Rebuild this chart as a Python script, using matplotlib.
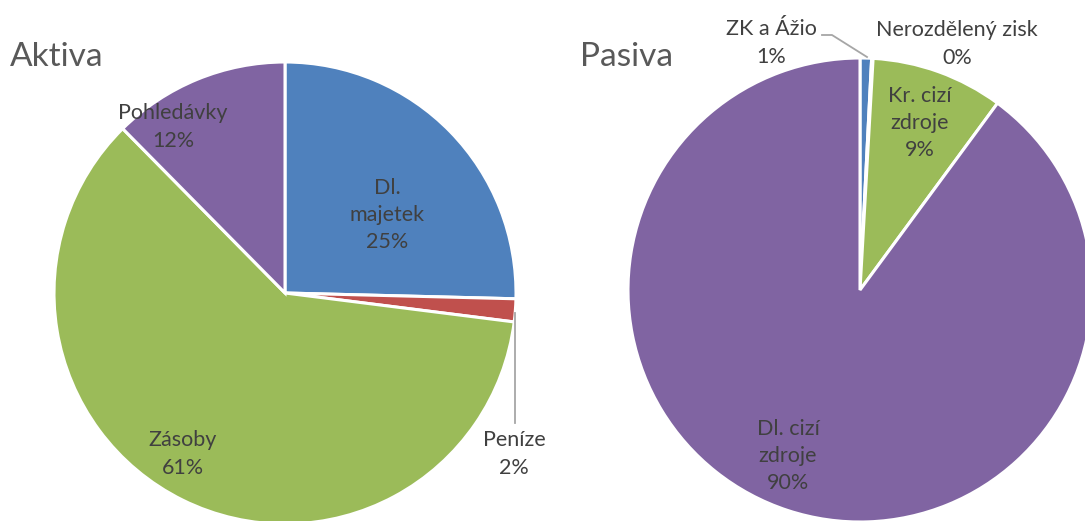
import matplotlib.pyplot as plt

plt.rcParams['font.family'] = ['Lato', 'DejaVu Sans']

aktiva_names = ['Dl.\nmajetek', 'Peníze', 'Zásoby', 'Pohledávky']
aktiva_vals = [25.4, 1.6, 60.6, 12.4]
aktiva_colors = ['#4f81bd', '#c0504d', '#9bbb59', '#8064a2']

pasiva_names = ['ZK a Ážio', 'Nerozdělený zisk', 'Kr. cizí\nzdroje', 'Dl. cizí\nzdroje']
pasiva_vals = [0.8, 0.1, 9.2, 89.9]
pasiva_colors = ['#4f81bd', '#c0504d', '#9bbb59', '#8064a2']

W, H = 1085, 521
fig = plt.figure(figsize=(W / 100, H / 100), dpi=100)
ax = fig.add_axes([0, 0, 1, 1])

wp = dict(edgecolor='white', linewidth=2.2)
ax.pie(aktiva_vals, colors=aktiva_colors, startangle=90, counterclock=False,
       center=(285, H - 293), radius=231, wedgeprops=wp)
ax.pie(pasiva_vals, colors=pasiva_colors, startangle=90, counterclock=False,
       center=(860, H - 290), radius=232, wedgeprops=wp)

ax.set_xlim(0, W)
ax.set_ylim(0, H)
ax.set_aspect('equal')
ax.axis('off')

txt = dict(fontsize=15.5, color='#404040', ha='center', va='center', linespacing=1.45)

def lab(name, v):
    return '{}\n{:.0f}%'.format(name, v)

# Aktiva labels
a_pos = [(387, 215), (514, 454), (183, 454), (173, 127)]
for (x, y), n, v in zip(a_pos, aktiva_names, aktiva_vals):
    ax.text(x, H - y, lab(n, v), **txt)

# Pasiva labels
p_pos = [(771, 43), (957, 44), (920, 123), (788, 456)]
for (x, y), n, v in zip(p_pos, pasiva_names, pasiva_vals):
    ax.text(x, H - y, lab(n, v), **txt)

# leader lines
ax.plot([515, 515], [H - 313, H - 423], color='#a6a6a6', lw=1.3)
ax.plot([822, 832, 867], [H - 35, H - 35, H - 57], color='#a6a6a6', lw=1.3)

ax.text(10, H - 57, 'Aktiva', fontsize=24, color='#595959', va='center', ha='left')
ax.text(580, H - 57, 'Pasiva', fontsize=24, color='#595959', va='center', ha='left')

fig.savefig('out.png', dpi=100)
